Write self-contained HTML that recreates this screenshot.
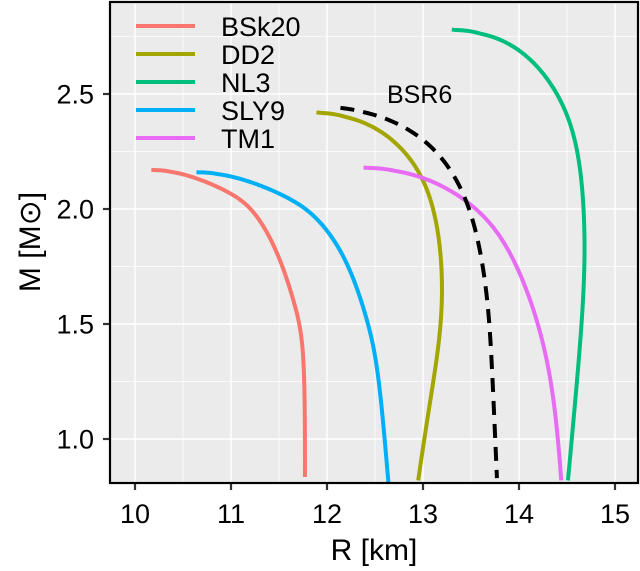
<!DOCTYPE html>
<html><head><meta charset="utf-8"><style>
body{margin:0;background:#fff;}
svg{display:block;font-family:"Liberation Sans",sans-serif;}
</style></head><body>
<svg id="chart" width="640" height="571" viewBox="0 0 640 571"></svg>
<script>
const xTicks=[10,11,12,13,14,15];
const yTicks=[1.0,1.5,2.0,2.5];
const seriesNames=["BSk20","DD2","NL3","SLY9","TM1"];
const seriesColors=["#F8766D","#A3A500","#00BF7D","#00B0F6","#E76BF3"];
const bsk20R=[10.17,10.5,11.0,11.24,11.5,11.63,11.72,11.76,11.77,11.77];
const bsk20M=[2.17,2.16,2.07,2.0,1.8,1.63,1.5,1.34,1.05,0.835];
const dd2R=[11.89,12.41,12.86,13.11,13.21,13.18,13.07,12.95];
const dd2M=[2.42,2.39,2.24,2.04,1.72,1.44,1.16,0.82];
const nl3R=[13.3,13.8,14.22,14.5,14.64,14.69,14.67,14.6,14.51];
const nl3M=[2.78,2.755,2.62,2.43,2.21,1.88,1.59,1.23,0.82];
const sly9R=[10.64,11.0,11.5,11.8,12.02,12.24,12.43,12.52,12.6,12.64];
const sly9M=[2.16,2.15,2.07,2.0,1.9,1.75,1.5,1.34,1.0,0.81];
const tm1R=[12.38,12.93,13.46,13.8,14.08,14.29,14.39,14.44];
const tm1M=[2.18,2.16,2.04,1.9,1.66,1.37,1.08,0.82];
const bsr6R=[12.14,12.55,12.97,13.25,13.46,13.59,13.68,13.72,13.77];
const bsr6M=[2.44,2.41,2.32,2.2,2.04,1.84,1.59,1.3,0.83];

const L=110,T=2,Rr=638,B=483;
const xs=v=>135+(v-10)*96;
const ys=v=>439-(v-1)*230;
const svg=document.getElementById('chart');
const NS='http://www.w3.org/2000/svg';
function mk(tag,attrs,parent){const e=document.createElementNS(NS,tag);for(const k in attrs)e.setAttribute(k,attrs[k]);(parent||svg).appendChild(e);return e;}
let e=mk('rect',{x:L,y:T,width:Rr-L,height:B-T,fill:'#EBEBEB'});


for(let v=9.5;v<=15.5;v+=1){const x=xs(v);if(x>L&&x<Rr)mk('line',{x1:x,x2:x,y1:T,y2:B,stroke:'#fff','stroke-width':0.7});}
for(let v=0.75;v<=3;v+=0.5){const y=ys(v);if(y>T&&y<B)mk('line',{x1:L,x2:Rr,y1:y,y2:y,stroke:'#fff','stroke-width':0.7});}
xTicks.forEach(v=>{const x=xs(v);
 mk('line',{x1:x,x2:x,y1:T,y2:B,stroke:'#fff','stroke-width':1.4});
 mk('line',{x1:x,x2:x,y1:B,y2:B+7,stroke:'#333','stroke-width':2.2});
 const t=mk('text',{x:x,y:523,'text-anchor':'middle','font-size':27,fill:'#000'});t.textContent=v;
 
 });
yTicks.forEach(v=>{const y=ys(v);
 mk('line',{x1:L,x2:Rr,y1:y,y2:y,stroke:'#fff','stroke-width':1.4});
 mk('line',{x1:L-7,x2:L,y1:y,y2:y,stroke:'#333','stroke-width':2.2});
 const t=mk('text',{x:L-16,y:y+9.5,'text-anchor':'end','font-size':27,fill:'#000'});t.textContent=v.toFixed(1);
 
 });
function pathD(R,M){
 const p=R.map((r,i)=>[xs(r),ys(M[i])]);
 const n=p.length;
 const ext=[[2*p[0][0]-p[1][0],2*p[0][1]-p[1][1]],...p,[2*p[n-1][0]-p[n-2][0],2*p[n-1][1]-p[n-2][1]]];
 const dist=(a,b)=>Math.pow(Math.hypot(b[0]-a[0],b[1]-a[1]),0.5)||1e-4;
 const pts=[p[0]];
 for(let i=1;i<ext.length-2;i++){
  const P0=ext[i-1],P1=ext[i],P2=ext[i+1],P3=ext[i+2];
  const t0=0,t1=t0+dist(P0,P1),t2=t1+dist(P1,P2),t3=t2+dist(P2,P3);
  for(let k=1;k<=20;k++){
   const t=t1+(t2-t1)*k/20;
   const lerp=(A,B_,ta,tb)=>[ (tb-t)/(tb-ta)*A[0]+(t-ta)/(tb-ta)*B_[0], (tb-t)/(tb-ta)*A[1]+(t-ta)/(tb-ta)*B_[1] ];
   const A1=lerp(P0,P1,t0,t1),A2=lerp(P1,P2,t1,t2),A3=lerp(P2,P3,t2,t3);
   const B1=lerp(A1,A2,t0,t2),B2=lerp(A2,A3,t1,t3);
   pts.push(lerp(B1,B2,t1,t2));
  }
 }
 let cur=pts;
 for(let pass=0;pass<2;pass++){
  const W=12,sm=[];
  for(let i=0;i<cur.length;i++){
   const w=Math.min(W,i,cur.length-1-i);let sx=0,sy=0;
   for(let j=i-w;j<=i+w;j++){sx+=cur[j][0];sy+=cur[j][1];}
   sm.push([sx/(2*w+1),sy/(2*w+1)]);
  }
  cur=sm;
 }
 return 'M'+cur.map(q=>q[0].toFixed(2)+','+q[1].toFixed(2)).join(' L');}
const data=[[bsk20R,bsk20M],[dd2R,dd2M],[nl3R,nl3M],[sly9R,sly9M],[tm1R,tm1M]];
data.forEach((s,i)=>{const c=mk('path',{d:pathD(s[0],s[1]),fill:'none',stroke:seriesColors[i],'stroke-width':4,'stroke-linejoin':'round'});
 
 });
const b=mk('path',{d:pathD(bsr6R,bsr6M),fill:'none',stroke:'#000','stroke-width':4,'stroke-dasharray':'14 9'});


const bl=mk('text',{x:387,y:103,'font-size':25,fill:'#000'});bl.textContent='BSR6';


mk('rect',{x:L,y:T,width:Rr-L,height:B-T,fill:'none',stroke:'#000','stroke-width':2.2});
seriesNames.forEach((n,i)=>{const y=26+i*28;
 const g=mk('g',{});
 
 
 mk('line',{x1:136,x2:195,y1:y,y2:y,stroke:seriesColors[i],'stroke-width':4},g);
 const t=mk('text',{x:221,y:y+10,'font-size':27,fill:'#000'},g);t.textContent=n;});
const xt=mk('text',{x:374,y:560,'text-anchor':'middle','font-size':30,fill:'#000'});xt.textContent='R [km]';


const yt=mk('text',{x:0,y:0,'text-anchor':'middle','font-size':30,fill:'#000',transform:'translate(40,242) rotate(-90)'});yt.textContent='M [M\u2299]';


</script>
</body></html>
